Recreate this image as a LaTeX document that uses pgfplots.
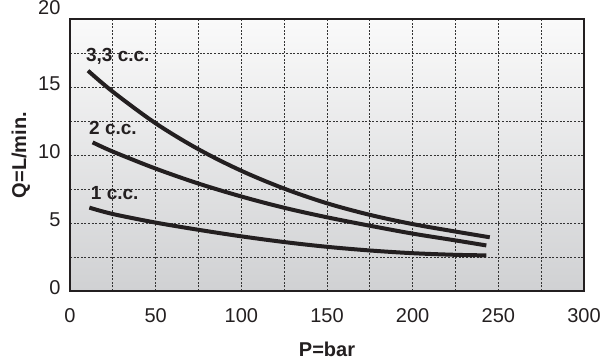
\documentclass[border=0pt]{standalone}
\usepackage{pgfplots}
\pgfplotsset{compat=1.18}
\usepackage{fontspec}
\setmainfont{Liberation Sans}
\definecolor{ink}{HTML}{231F20}
\definecolor{bgtop}{HTML}{FAFAFA}
\definecolor{bgbot}{HTML}{D0D1D3}
\definecolor{gridc}{HTML}{333333}
\begin{document}
\begin{tikzpicture}
\path[use as bounding box] (-70pt,-71pt) rectangle (532pt,291pt);
\begin{axis}[
  scale only axis,
  width=514pt, height=272pt,
  xmin=0, xmax=300, ymin=0, ymax=20,
  xtick={0,50,...,300},
  minor xtick={25,75,...,275},
  ytick={0,5,10,15,20},
  yticklabels={0,5,10,15,\raisebox{16pt}{20}},
  minor ytick={2.5,7.5,12.5,17.5},
  grid=both,
  major grid style={gridc, line width=0.9pt, dash pattern=on 2pt off 1.6pt},
  minor grid style={gridc, line width=0.9pt, dash pattern=on 2pt off 1.6pt},
  major tick length=0pt, minor tick length=0pt,
  axis line style={ink, line width=2pt},
  axis background/.style={shade, top color=bgtop, bottom color=bgbot},
  /pgf/number format/assume math mode=true,
  tick label style={font=\fontsize{20}{24}\selectfont, text=ink},
  xticklabel style={yshift=-14pt},
  yticklabel style={xshift=-6pt, yshift=3pt},
  xlabel={P=bar}, ylabel={Q=L/min.},
  label style={font=\fontsize{20}{24}\selectfont\bfseries, text=ink},
  xlabel style={at={(axis description cs:0.5,-0.2132)}, anchor=center},
  ylabel style={at={(axis description cs:-0.0955,0.5)}, anchor=center, rotate=0},
  clip=false,
]
\addplot[ink, line width=4pt, smooth, tension=0.55] coordinates {
 (10.5,16.2) (25,14.65) (50,12.33) (75,10.42) (100,8.84) (125,7.53) (150,6.45) (175,5.6) (200,4.92) (225,4.37) (245,3.95)};
\addplot[ink, line width=4pt, smooth, tension=0.55] coordinates {
 (13.2,10.93) (25,10.25) (50,9.0) (75,7.9) (100,6.95) (125,6.12) (150,5.42) (175,4.8) (200,4.22) (225,3.72) (243,3.35)};
\addplot[ink, line width=4pt, smooth, tension=0.55] coordinates {
 (11.3,6.13) (25,5.66) (50,5.03) (75,4.5) (100,4.02) (125,3.6) (150,3.25) (175,2.98) (200,2.78) (225,2.66) (243,2.62)};
\node[anchor=base west, inner sep=0pt, text=ink, font=\fontsize{19}{22}\selectfont\bfseries] at (axis cs:9.3,16.84) {3,3 c.c.};
\node[anchor=base west, inner sep=0pt, text=ink, font=\fontsize{19}{22}\selectfont\bfseries] at (axis cs:11.1,11.54) {2 c.c.};
\node[anchor=base west, inner sep=0pt, text=ink, font=\fontsize{19}{22}\selectfont\bfseries] at (axis cs:12.1,6.76) {1 c.c.};
\end{axis}
\end{tikzpicture}
\end{document}
